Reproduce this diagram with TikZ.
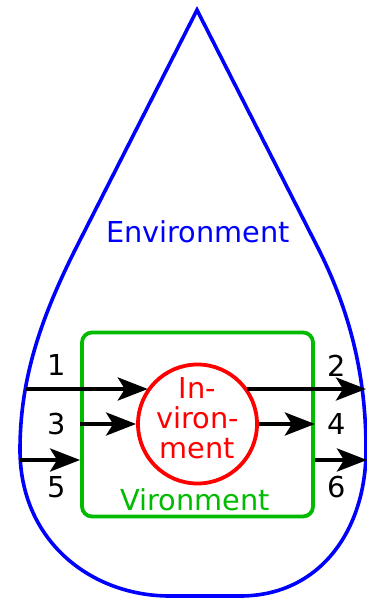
\documentclass[tikz,border=0pt]{standalone}
\usepackage{fontspec}
\setmainfont{DejaVu Sans}
\usepackage{tikz}
\usetikzlibrary{arrows.meta, positioning, calc}
\definecolor{envblue}{RGB}{0, 0, 255}
\definecolor{virgreen}{RGB}{0, 187, 0}
\definecolor{invred}{RGB}{255, 0, 0}
\tikzset{
  flow/.style={draw=black, line width=2.1pt, -{Stealth[length=15pt, width=11.5pt, inset=3.5pt]}},
  bigtext/.style={font=\fontsize{14.4}{15}\selectfont},
  numlabel/.style={bigtext, text=black},
}

\begin{document}
\begin{tikzpicture}[x=0.5pt, y=-0.5pt]
  \useasboundingbox (0,0) rectangle (367,598);

  % Drop (environment)
  \draw[envblue, line width=1.8pt, line join=miter]
    (197,10) -- (75,250) .. controls (40,320) and (20,380) .. (20,450)
    .. controls (20,540) and (90,596) .. (170,596) -- (240,596)
    .. controls (320,596) and (366,530) .. (366,450)
    .. controls (366,385) and (354,320) .. (319,250) -- cycle;
  \node[bigtext, text=envblue] (env) at (198,232) {Environment};

  % Vironment box
  \node[draw=virgreen, line width=1.9pt, rounded corners=5pt, minimum width=115.5pt, minimum height=92pt] (vir) at (197.5,424.5) {};
  \node[bigtext, text=virgreen] (virtext) at (195,500) {Vironment};

  % Inviron circle
  \node[circle, draw=invred, line width=1.9pt, minimum size=59.5pt, inner sep=0pt] (inv) at (197.5,424) {};
  \node[bigtext, text=invred, align=center] (invtext) at (197.5,418.5) {In-\\viron-\\ment};

  % Free ends on the drop
  \coordinate (p1) at (26,389);
  \coordinate (p2) at (366,389);
  \coordinate (p5) at (20,460);
  \coordinate (p6) at (367,460);

  % Flows
  \draw[flow] (p1) -- (p1 -| inv.144);
  \draw[flow] (p2 -| inv.36) -- (p2);
  \draw[flow] (vir.west |- inv.west) -- (inv.west);
  \draw[flow] (inv.east) -- (inv.east -| vir.east);
  \draw[flow] (p5) -- (p5 -| vir.west);
  \draw[flow] (p6 -| vir.east) -- (p6);

  % Flow numbers
  \node[numlabel] (n1) at (57,365) {1};
  \node[numlabel] (n3) at (57,424) {3};
  \node[numlabel] (n5) at (57,487) {5};
  \node[numlabel] (n2) at (337,366) {2};
  \node[numlabel] (n4) at (337,424) {4};
  \node[numlabel] (n6) at (337,487) {6};
\end{tikzpicture}
\end{document}
